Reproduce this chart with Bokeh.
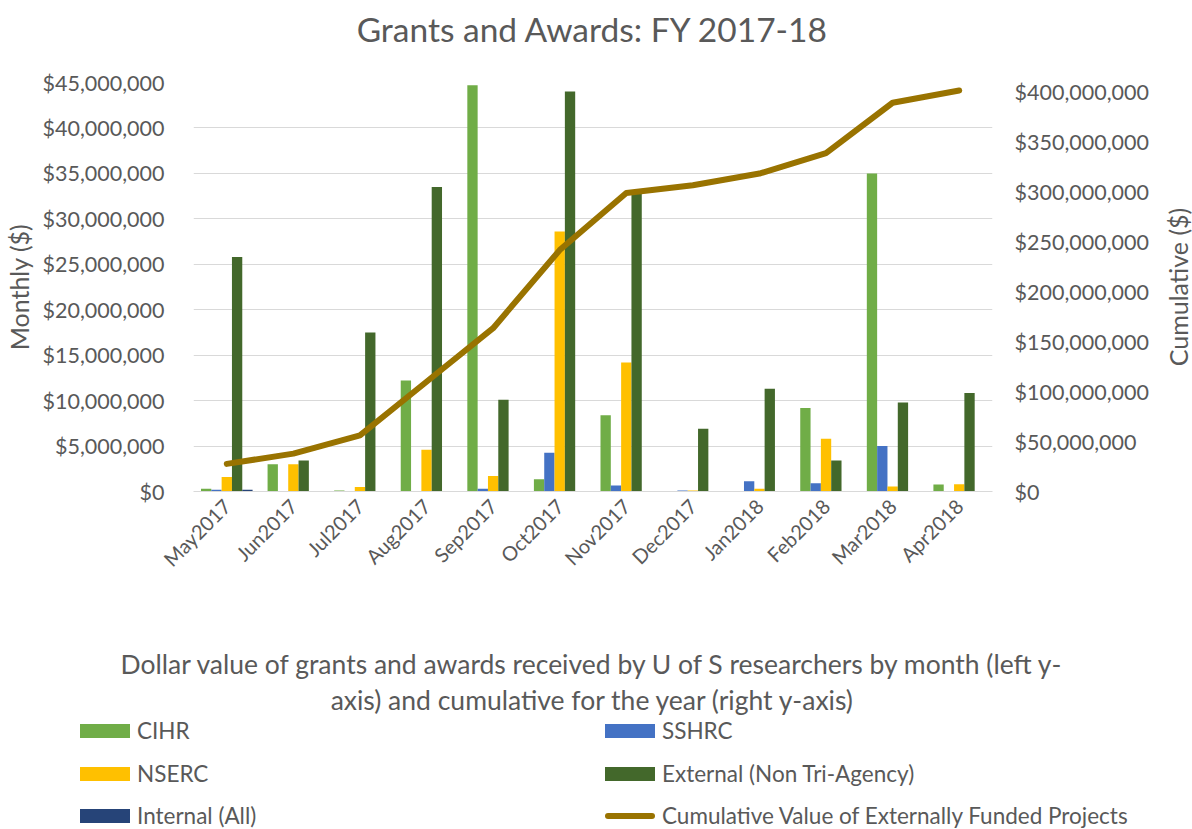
import math
from bokeh.plotting import figure
from bokeh.layouts import row, column
from bokeh.models import (FactorRange, Range1d, LinearAxis, NumeralTickFormatter,
                          FixedTicker, ColumnDataSource, Title, Div)
from bokeh.transform import dodge
from bokeh.embed import file_html
from bokeh.resources import INLINE

months = ["May2017", "Jun2017", "Jul2017", "Aug2017", "Sep2017", "Oct2017",
          "Nov2017", "Dec2017", "Jan2018", "Feb2018", "Mar2018", "Apr2018"]
cihr = [0.3e6, 3.0e6, 0.1e6, 12.2e6, 44.7e6, 1.35e6, 8.4e6, 0, 0, 9.2e6, 35.0e6, 0.77e6]
sshrc = [0.2e6, 0, 0, 0, 0.3e6, 4.25e6, 0.66e6, 0.1e6, 1.13e6, 0.9e6, 5.0e6, 0.05e6]
nserc = [1.6e6, 3.0e6, 0.5e6, 4.6e6, 1.7e6, 28.6e6, 14.2e6, 0.1e6, 0.3e6, 5.8e6, 0.55e6, 0.8e6]
external = [25.8e6, 3.4e6, 17.5e6, 33.5e6, 10.1e6, 44.0e6, 32.9e6, 6.9e6, 11.3e6, 3.4e6, 9.8e6, 10.85e6]
internal = [0.2e6, 0, 0, 0, 0, 0, 0, 0, 0, 0, 0, 0.05e6]
cumulative = [27.7e6, 38.0e6, 56.3e6, 110e6, 163.7e6, 242e6, 299.3e6, 307e6, 318.7e6,
              339.3e6, 389.7e6, 402e6]

left_ticks = [0, 5e6, 10e6, 15e6, 20e6, 25e6, 30e6, 35e6, 40e6, 45e6]
right_ticks = [0, 50e6, 100e6, 150e6, 200e6, 250e6, 300e6, 350e6, 400e6]

series_names = ["CIHR", "SSHRC", "NSERC", "External (Non Tri-Agency)", "Internal (All)"]
series_colors = ["#70AD47", "#4472C4", "#FFC000", "#43682B", "#264478"]
line_name = "Cumulative Value of Externally Funded Projects"
line_color = "#997300"

FONT = "Lato"
GREY = "#595959"
H = 718          # chart height; the legend strip takes the rest of the window

source = ColumnDataSource(dict(month=months, cihr=cihr, sshrc=sshrc, nserc=nserc,
                               external=external, internal=internal,
                               cumulative=cumulative))

p = figure(width=1160, height=H, x_range=FactorRange(*months),
           y_range=Range1d(0, 45e6), output_backend="svg", toolbar_location=None,
           min_border_left=188, min_border_right=168, min_border_top=82,
           min_border_bottom=H - 492)
p.outline_line_color = None
p.background_fill_color = "white"

p.title.text = "Grants and Awards: FY 2017-18"
p.title.align = "center"
p.title.vertical_align = "bottom"
p.title.offset = 8
p.title.text_font = FONT
p.title.text_font_size = "33.5px"
p.title.text_font_style = "normal"
p.title.text_color = GREY
p.title.standoff = 10
p.add_layout(Title(text=" ", text_font_size="16px", standoff=10), "above")

p.extra_y_ranges = {"right": Range1d(0, 410e6)}

bw = 0.155
offsets = [-2 * bw, -bw, 0, bw, 2 * bw]
cols = ["cihr", "sshrc", "nserc", "external", "internal"]
for c, off, col in zip(cols, offsets, series_colors):
    p.vbar(x=dodge("month", off, range=p.x_range), top=c, width=bw,
           source=source, fill_color=col, line_color=None)

p.line(x="month", y="cumulative", source=source, y_range_name="right",
       line_color=line_color, line_width=6, line_cap="round", line_join="round")

ya = p.yaxis[0]
ya.ticker = FixedTicker(ticks=left_ticks)
ya.formatter = NumeralTickFormatter(format="$0,0")
ya.axis_label = "Monthly ($)"

ra = LinearAxis(y_range_name="right", ticker=FixedTicker(ticks=right_ticks),
                formatter=NumeralTickFormatter(format="$0,0"))
p.add_layout(ra, "right")

for ax in [ya, ra]:
    ax.axis_line_color = None
    ax.major_tick_line_color = None
    ax.minor_tick_line_color = None
    ax.major_label_text_font = FONT
    ax.major_label_text_font_size = "21.5px"
    ax.major_label_text_color = GREY
    ax.major_label_standoff = 23
    ax.axis_label_text_font = FONT
    ax.axis_label_text_font_size = "25px"
    ax.axis_label_text_font_style = "normal"
    ax.axis_label_text_color = GREY
    ax.axis_label_standoff = 6
ra.major_label_standoff = 16

xa = p.xaxis[0]
xa.axis_line_color = "#D9D9D9"
xa.major_tick_line_color = None
xa.minor_tick_line_color = None
xa.major_label_orientation = math.pi / 4
xa.major_label_text_font = FONT
xa.major_label_text_font_size = "20px"
xa.major_label_text_color = GREY
xa.major_label_standoff = 5
xa.axis_label = ("Dollar value of grants and awards received by U of S researchers by month (left y-\n"
                 "axis) and cumulative for the year (right y-axis)")
xa.axis_label_text_font = FONT
xa.axis_label_text_font_size = "26.5px"
xa.axis_label_text_font_style = "normal"
xa.axis_label_text_color = GREY
xa.axis_label_text_line_height = 1.1
xa.axis_label_standoff = 66

p.xgrid.grid_line_color = None
p.ygrid.grid_line_color = "#D9D9D9"
p.ygrid.grid_line_width = 1

# narrow strip on the right holding the right-hand axis title (reads bottom-to-top)
rf = figure(width=32, height=H, output_backend="svg", toolbar_location=None,
            min_border_left=0, min_border_right=0, min_border_top=82,
            min_border_bottom=H - 492, x_axis_location=None, y_axis_location=None)
rf.outline_line_color = None
rf.xgrid.visible = False
rf.ygrid.visible = False
rf.add_layout(Title(text="Cumulative ($)", align="center", text_font=FONT,
                    text_font_size="25px", text_font_style="normal", text_color=GREY,
                    standoff=0), "left")

# legend: two columns, three rows
legend_names = series_names + [line_name]
legend_colors = series_colors + [line_color]
parts = []
for i, (name, col) in enumerate(zip(legend_names, legend_colors)):
    r, c = divmod(i, 2)
    cy = 13 + 42.5 * r
    x0 = 80 + 525 * c
    if name == line_name:
        sw = (f'<div style="position:absolute;left:{x0}px;top:{cy - 3}px;width:50px;'
              f'height:6px;border-radius:3px;background:{col};"></div>')
    else:
        sw = (f'<div style="position:absolute;left:{x0}px;top:{cy - 7}px;width:50px;'
              f'height:14px;background:{col};"></div>')
    tx = (f'<div style="position:absolute;left:{x0 + 57}px;top:{cy - 13}px;height:26px;'
          f'line-height:26px;white-space:nowrap;font-family:Lato;font-size:22.5px;'
          f'color:{GREY};">{name}</div>')
    parts.append(sw + tx)
legend_div = Div(text='<div style="position:relative;width:1192px;height:110px;">'
                      + "".join(parts) + "</div>",
                 width=1192, height=829 - 1 - H, margin=0)

layout = column(row(p, rf, spacing=0), legend_div, spacing=0)
open("out.html", "w").write(file_html(layout, INLINE))
